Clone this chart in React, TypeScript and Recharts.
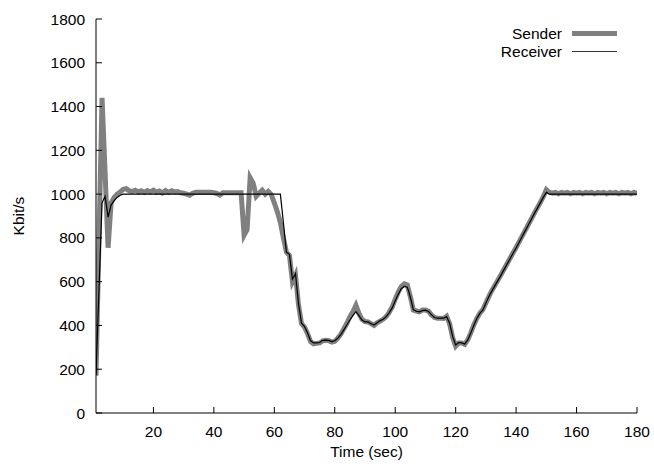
import React from 'react';
import { LineChart, Line, XAxis, YAxis, Legend } from 'recharts';

const times = [
  1, 2, 3, 4, 5, 6, 7, 8, 9, 10, 11, 12, 13, 14, 15, 16, 17, 18, 19, 20,
  21, 22, 23, 24, 25, 26, 27, 28, 29, 30, 31, 32, 33, 34, 35, 36, 37, 38, 39, 40,
  41, 42, 43, 44, 45, 46, 47, 48, 49, 50, 51, 52, 53, 54, 55, 56, 57, 58, 59, 60,
  61, 62, 63, 64, 65, 66, 67, 68, 69, 70, 71, 72, 73, 74, 75, 76, 77, 78, 79, 80,
  81, 82, 83, 84, 85, 86, 87, 88, 89, 90, 91, 92, 93, 94, 95, 96, 97, 98, 99, 100,
  101, 102, 103, 104, 105, 106, 107, 108, 109, 110, 111, 112, 113, 114, 115, 116, 117, 118, 119, 120,
  121, 122, 123, 124, 125, 126, 127, 128, 129, 130, 131, 132, 133, 134, 135, 136, 137, 138, 139, 140,
  141, 142, 143, 144, 145, 146, 147, 148, 149, 150, 151, 152, 153, 154, 155, 156, 157, 158, 159, 160,
  161, 162, 163, 164, 165, 166, 167, 168, 169, 170, 171, 172, 173, 174, 175, 176, 177, 178, 179, 180,
];

const sender = [
  170, 800, 1440, 1100, 755, 960, 985, 1000, 1010, 1022, 1025, 1015, 1012, 1018, 1010, 1015, 1008, 1016, 1010, 1018,
  1008, 1014, 1005, 1016, 1008, 1015, 1010, 1012, 1006, 1004, 1000, 995, 1004, 1008, 1008, 1008, 1008, 1008, 1008, 1006,
  1003, 996, 1006, 1006, 1006, 1006, 1006, 1006, 1006, 812, 838, 1075, 1050, 990, 1005, 1018, 1000, 1012, 998, 960,
  920, 870, 800, 735, 720, 600, 630, 495, 408, 392, 362, 326, 316, 318, 320, 330, 332, 330, 324, 328,
  342, 360, 385, 410, 440, 462, 492, 455, 428, 418, 416, 408, 400, 412, 420, 428, 440, 460, 485, 520,
  552, 578, 590, 585, 532, 470, 466, 462, 470, 470, 465, 448, 436, 433, 433, 432, 442, 408, 345, 305,
  320, 320, 314, 334, 366, 402, 432, 456, 472, 503, 533, 560, 584, 608, 632, 657, 682, 707, 732, 756,
  782, 808, 834, 860, 886, 912, 937, 962, 988, 1020, 1008, 1004, 1008, 1002, 1008, 1004, 1008, 1002, 1008, 1004,
  1008, 1002, 1008, 1004, 1008, 1002, 1008, 1004, 1008, 1002, 1008, 1004, 1008, 1002, 1008, 1004, 1008, 1002, 1008, 1004,
];

const receiver = [
  175, 570, 960, 990, 895, 950, 970, 985, 995, 1000, 1000, 1000, 1000, 1000, 1000, 1000, 1000, 1000, 1000, 1000,
  1000, 1000, 1000, 1000, 1000, 1000, 1000, 1000, 1000, 1000, 1000, 1000, 1000, 1000, 1000, 1000, 1000, 1000, 1000, 1000,
  1000, 1000, 1000, 1000, 1000, 1000, 1000, 1000, 1000, 1000, 1000, 1000, 1000, 1000, 1000, 1000, 1000, 1000, 1000, 1000,
  1000, 1000, 870, 735, 725, 612, 636, 500, 410, 395, 365, 330, 320, 320, 322, 332, 333, 332, 326, 330,
  342, 358, 380, 402, 425, 445, 463, 445, 425, 416, 416, 408, 402, 412, 422, 428, 440, 458, 480, 512,
  542, 568, 578, 575, 530, 472, 465, 462, 468, 470, 464, 448, 436, 433, 433, 433, 440, 410, 350, 311,
  322, 320, 315, 334, 365, 400, 432, 455, 471, 503, 532, 558, 582, 606, 630, 655, 680, 705, 730, 754,
  780, 806, 832, 858, 884, 910, 935, 960, 985, 1008, 1000, 1000, 1000, 1000, 1000, 1000, 1000, 1000, 1000, 1000,
  1000, 1000, 1000, 1000, 1000, 1000, 1000, 1000, 1000, 1000, 1000, 1000, 1000, 1000, 1000, 1000, 1000, 1000, 1000, 1000,
];

const xTicks = [20, 40, 60, 80, 100, 120, 140, 160, 180];
const yTicks = [0, 200, 400, 600, 800, 1000, 1200, 1400, 1600, 1800];
const seriesNames = ['Sender', 'Receiver'];

const data = times.map((t, i) => ({ t, sender: sender[i], receiver: receiver[i] }));

const FONT = '"Liberation Sans", Arial, Helvetica, sans-serif';
const FS = 15.5;
const TICK = 6;

const BottomTick = (props: any) => {
  const { x, y, payload } = props;
  return (
    <g>
      <line x1={x} y1={y} x2={x} y2={y - TICK} stroke="#000" strokeWidth={1} />
      <text x={x} y={y + 24} textAnchor="middle" fontFamily={FONT} fontSize={FS} fill="#000">
        {payload.value}
      </text>
    </g>
  );
};

const TopTick = (props: any) => {
  const { x, y } = props;
  return <line x1={x} y1={y} x2={x} y2={y + TICK} stroke="#000" strokeWidth={1} />;
};

const LeftTick = (props: any) => {
  const { x, y, payload } = props;
  return (
    <g>
      <line x1={x} y1={y} x2={x + TICK} y2={y} stroke="#000" strokeWidth={1} />
      <text x={x - 11} y={y + 5.5} textAnchor="end" fontFamily={FONT} fontSize={FS} fill="#000">
        {payload.value}
      </text>
    </g>
  );
};

const RightTick = (props: any) => {
  const { x, y } = props;
  return <line x1={x} y1={y} x2={x - TICK} y2={y} stroke="#000" strokeWidth={1} />;
};

const LegendBox = () => (
  <svg width={150} height={45} style={{ display: 'block' }}>
    <text x={82} y={19} textAnchor="end" fontFamily={FONT} fontSize={FS} fill="#000">
      {seriesNames[0]}
    </text>
    <line x1={92} y1={13.5} x2={137} y2={13.5} stroke="#808080" strokeWidth={5} />
    <text x={82} y={37} textAnchor="end" fontFamily={FONT} fontSize={FS} fill="#000">
      {seriesNames[1]}
    </text>
    <line x1={92} y1={31.5} x2={137} y2={31.5} stroke="#333" strokeWidth={1} />
  </svg>
);

export default function App() {
  return (
    <div style={{ position: 'absolute', left: 0, top: 0, width: 654, height: 467, background: '#fff' }}>
      <LineChart
        width={654}
        height={467}
        data={data}
        margin={{ top: 19, right: 17, bottom: 0, left: 0 }}
      >
        <XAxis
          xAxisId="bottom"
          type="number"
          dataKey="t"
          domain={[1, 180]}
          ticks={xTicks}
          allowDataOverflow
          height={54}
          tickSize={0}
          tickMargin={0}
          tickLine={false}
          axisLine={{ stroke: '#000', strokeWidth: 1 }}
          tick={BottomTick}
          interval={0}
          label={(p: any) => {
            const vb = p.viewBox || {};
            return (
              <text x={(vb.x ?? 96) + (vb.width ?? 541) / 2} y={457} textAnchor="middle" fontFamily={FONT} fontSize={FS} fill="#000">
                Time (sec)
              </text>
            );
          }}
        />
        <XAxis
          xAxisId="top"
          orientation="top"
          type="number"
          dataKey="t"
          domain={[1, 180]}
          ticks={xTicks}
          allowDataOverflow
          height={0}
          tickSize={0}
          tickMargin={0}
          tickLine={false}
          axisLine={{ stroke: '#000', strokeWidth: 1 }}
          tick={TopTick}
          interval={0}
        />
        <YAxis
          yAxisId="left"
          type="number"
          domain={[0, 1800]}
          ticks={yTicks}
          allowDataOverflow
          width={96}
          tickSize={0}
          tickMargin={0}
          tickLine={false}
          axisLine={{ stroke: '#000', strokeWidth: 1 }}
          tick={LeftTick}
          interval={0}
          label={(p: any) => {
            const vb = p.viewBox || {};
            const cy = (vb.y ?? 19) + (vb.height ?? 394) / 2;
            return (
              <text x={24} y={cy} transform={`rotate(-90, 24, ${cy})`} textAnchor="middle" fontFamily={FONT} fontSize={FS} fill="#000">
                Kbit/s
              </text>
            );
          }}
        />
        <YAxis
          yAxisId="right"
          orientation="right"
          type="number"
          domain={[0, 1800]}
          ticks={yTicks}
          allowDataOverflow
          width={0}
          tickSize={0}
          tickMargin={0}
          tickLine={false}
          axisLine={{ stroke: '#000', strokeWidth: 1 }}
          tick={RightTick}
          interval={0}
        />
        <Legend
          layout="vertical"
          align="center"
          verticalAlign="middle"
          wrapperStyle={{ top: 20, left: 480, width: 150, height: 45 }}
          content={() => <LegendBox />}
        />
        <Line
          xAxisId="bottom"
          yAxisId="left"
          type="linear"
          dataKey="sender"
          name={seriesNames[0]}
          stroke="#808080"
          strokeWidth={5}
          strokeLinejoin="miter"
          dot={false}
          activeDot={false}
          isAnimationActive={false}
        />
        <Line
          xAxisId="bottom"
          yAxisId="left"
          type="linear"
          dataKey="receiver"
          name={seriesNames[1]}
          stroke="#000"
          strokeWidth={1.2}
          dot={false}
          activeDot={false}
          isAnimationActive={false}
        />
      </LineChart>
    </div>
  );
}
